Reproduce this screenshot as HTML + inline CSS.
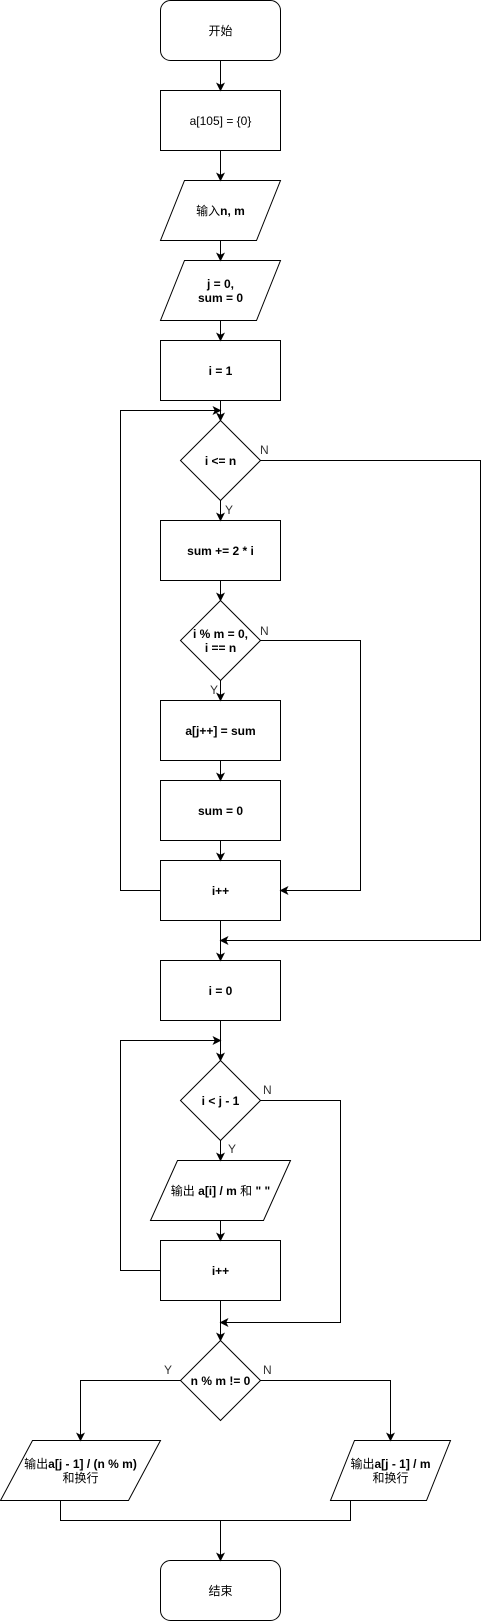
<!DOCTYPE html>
<html><head><meta charset="utf-8"><style>
html,body{margin:0;padding:0;background:#fff;}
svg{display:block;}
text{font-family:"Liberation Sans","Noto Sans CJK SC",sans-serif;font-size:12px;fill:#000;}
.b{font-weight:bold;}
.l{fill:#333;}
</style></head><body>
<svg width="489" height="1621" viewBox="0 0 489 1621" xmlns="http://www.w3.org/2000/svg">
<defs>
<marker id="a" markerWidth="10" markerHeight="10" refX="8" refY="4.5" orient="auto" markerUnits="userSpaceOnUse">
<path d="M0,0 L9,4.5 L0,9 L2.2,4.5 Z" fill="#000"/>
</marker>
</defs>
<g fill="none" stroke="#000" stroke-width="1">
<rect x="160.5" y="0.5" width="120" height="60" rx="10"/>
<rect x="160.5" y="90.5" width="120" height="60"/>
<polygon points="184.5,180.5 280.5,180.5 256.5,240.5 160.5,240.5"/>
<polygon points="184.5,260.5 280.5,260.5 256.5,320.5 160.5,320.5"/>
<rect x="160.5" y="340.5" width="120" height="60"/>
<polygon points="220.5,420.5 260.5,460.5 220.5,500.5 180.5,460.5"/>
<rect x="160.5" y="520.5" width="120" height="60"/>
<polygon points="220.5,600.5 260.5,640.5 220.5,680.5 180.5,640.5"/>
<rect x="160.5" y="700.5" width="120" height="60"/>
<rect x="160.5" y="780.5" width="120" height="60"/>
<rect x="160.5" y="860.5" width="120" height="60"/>
<rect x="160.5" y="960.5" width="120" height="60"/>
<polygon points="220.5,1060.5 260.5,1100.5 220.5,1140.5 180.5,1100.5"/>
<polygon points="177.5,1160.5 290.5,1160.5 263.5,1220.5 150.5,1220.5"/>
<rect x="160.5" y="1240.5" width="120" height="60"/>
<polygon points="220.5,1340.5 260.5,1380.5 220.5,1420.5 180.5,1380.5"/>
<polygon points="32.5,1440.5 160.5,1440.5 128.5,1500.5 0.5,1500.5"/>
<polygon points="354.5,1440.5 450.5,1440.5 426.5,1500.5 330.5,1500.5"/>
<rect x="160.5" y="1560.5" width="120" height="60" rx="10"/>

<line x1="220.5" y1="60.5" x2="220.5" y2="90.5" marker-end="url(#a)"/>
<line x1="220.5" y1="150.5" x2="220.5" y2="180.5" marker-end="url(#a)"/>
<line x1="220.5" y1="240.5" x2="220.5" y2="260.5" marker-end="url(#a)"/>
<line x1="220.5" y1="320.5" x2="220.5" y2="340.5" marker-end="url(#a)"/>
<line x1="220.5" y1="400.5" x2="220.5" y2="420.5" marker-end="url(#a)"/>
<line x1="220.5" y1="500.5" x2="220.5" y2="520.5" marker-end="url(#a)"/>
<line x1="220.5" y1="580.5" x2="220.5" y2="600.5" marker-end="url(#a)"/>
<line x1="220.5" y1="680.5" x2="220.5" y2="700.5" marker-end="url(#a)"/>
<line x1="220.5" y1="760.5" x2="220.5" y2="780.5" marker-end="url(#a)"/>
<line x1="220.5" y1="840.5" x2="220.5" y2="860.5" marker-end="url(#a)"/>
<line x1="220.5" y1="920.5" x2="220.5" y2="960.5" marker-end="url(#a)"/>
<polyline points="160.5,890.5 120.5,890.5 120.5,410.5 220.5,410.5" marker-end="url(#a)"/>
<polyline points="260.5,640.5 360.5,640.5 360.5,890.5 280.5,890.5" marker-end="url(#a)"/>
<polyline points="260.5,460.5 480.5,460.5 480.5,940.5 220.5,940.5" marker-end="url(#a)"/>
<line x1="220.5" y1="1020.5" x2="220.5" y2="1060.5" marker-end="url(#a)"/>
<line x1="220.5" y1="1140.5" x2="220.5" y2="1160.5" marker-end="url(#a)"/>
<line x1="220.5" y1="1220.5" x2="220.5" y2="1240.5" marker-end="url(#a)"/>
<polyline points="160.5,1270.5 120.5,1270.5 120.5,1040.5 220.5,1040.5" marker-end="url(#a)"/>
<line x1="220.5" y1="1300.5" x2="220.5" y2="1340.5" marker-end="url(#a)"/>
<polyline points="260.5,1100.5 340.5,1100.5 340.5,1322.5 220.5,1322.5" marker-end="url(#a)"/>
<polyline points="180.5,1380.5 80.5,1380.5 80.5,1440.5" marker-end="url(#a)"/>
<polyline points="260.5,1380.5 390.5,1380.5 390.5,1440.5" marker-end="url(#a)"/>
<polyline points="60.5,1500.5 60.5,1520.5 350.5,1520.5 350.5,1500.5"/>
<line x1="220.5" y1="1520.5" x2="220.5" y2="1560.5" marker-end="url(#a)"/>
</g>
<g text-anchor="middle">
<text x="220.5" y="35">开始</text>
<text x="220.5" y="125">a[105] = {0}</text>
<text x="220.5" y="215">输入<tspan class="b">n, m</tspan></text>
<text x="220.5" y="288" class="b">j = 0,</text>
<text x="220.5" y="302" class="b">sum = 0</text>
<text x="220.5" y="375" class="b">i = 1</text>
<text x="220.5" y="465" class="b">i &lt;= n</text>
<text x="220.5" y="555" class="b">sum += 2 * i</text>
<text x="220.5" y="638" class="b">i % m = 0,</text>
<text x="220.5" y="652" class="b">i == n</text>
<text x="220.5" y="735" class="b">a[j++] = sum</text>
<text x="220.5" y="815" class="b">sum = 0</text>
<text x="220.5" y="895" class="b">i++</text>
<text x="220.5" y="995" class="b">i = 0</text>
<text x="220.5" y="1105" class="b">i &lt; j - 1</text>
<text x="220.5" y="1195">输出 <tspan class="b">a[i] / m</tspan> 和 <tspan class="b">" "</tspan></text>
<text x="220.5" y="1275" class="b">i++</text>
<text x="220.5" y="1385" class="b">n % m != 0</text>
<text x="80.5" y="1468">输出<tspan class="b">a[j - 1] / (n % m)</tspan></text>
<text x="80.5" y="1482">和换行</text>
<text x="390.5" y="1468">输出<tspan class="b">a[j - 1] / m</tspan></text>
<text x="390.5" y="1482">和换行</text>
<text x="220.5" y="1595">结束</text>
</g>
<g class="l">
<text x="260" y="454" class="l">N</text>
<text x="225" y="514" class="l">Y</text>
<text x="260" y="635" class="l">N</text>
<text x="210" y="694" class="l">Y</text>
<text x="263" y="1094" class="l">N</text>
<text x="228" y="1153" class="l">Y</text>
<text x="164" y="1374" class="l">Y</text>
<text x="263" y="1374" class="l">N</text>
</g>
</svg>
</body></html>
